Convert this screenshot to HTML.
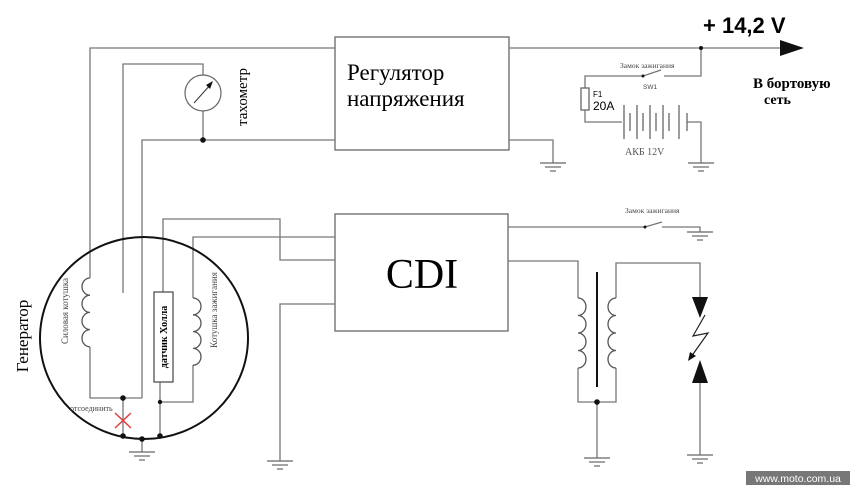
<!DOCTYPE html>
<html><head><meta charset="utf-8"><style>
body{margin:0;background:#fff}
svg{display:block}
text{font-family:"Liberation Serif",serif}
</style></head><body>
<svg width="850" height="485" viewBox="0 0 850 485" xmlns="http://www.w3.org/2000/svg">
<defs>
<g id="gnd" stroke="#666" stroke-width="1.2"><line x1="-13" y1="0" x2="13" y2="0"/><line x1="-8" y1="4" x2="8" y2="4"/><line x1="-3" y1="8" x2="3" y2="8"/></g>
</defs>
<g fill="none" stroke="#777" stroke-width="1.3">
<rect x="335" y="37" width="174" height="113" stroke="#666"/>
<rect x="335" y="214" width="173" height="117" stroke="#666"/>
<polyline points="90,278 90,48 335,48"/>
<line x1="509" y1="48" x2="782" y2="48"/>
<polyline points="123,293 123,64 203,64 203,75"/>
<line x1="203" y1="111" x2="203" y2="140"/>
<polyline points="142,398 142,140 335,140"/>
<polyline points="90,347 90,398 142,398"/>
<line x1="123" y1="398" x2="123" y2="436"/>
<line x1="142" y1="439" x2="142" y2="452"/>
<polyline points="163,292 163,219 280,219 280,260 335,260"/>
<line x1="160" y1="382" x2="160" y2="437"/>
<polyline points="160,402 193,402 193,365"/>
<polyline points="193,298 193,237 335,237"/>
<polyline points="280,461 280,304 335,304"/>
<polyline points="509,140 553,140 553,163"/>
<polyline points="701,48 701,76 664,76"/>
<polyline points="643,76 585,76 585,88"/>
<line x1="643" y1="76" x2="661" y2="70"/>
<rect x="581" y="88" width="8" height="22" stroke="#666"/>
<polyline points="585,110 585,122 622,122"/>
<polyline points="687,122 701,122 701,163"/>
<polyline points="508,227 644,227"/>
<line x1="645" y1="227" x2="662" y2="222"/>
<polyline points="662,227 700,227 700,232"/>
<polyline points="508,261 578,261 578,298"/>
<polyline points="578,368 578,402 616,402 616,368"/>
<polyline points="616,298 616,263 700,263 700,300"/>
<line x1="597" y1="402" x2="597" y2="458"/>
<line x1="700" y1="383" x2="700" y2="455"/>
<path d="M90,278 a8,8.6 0 0 0 0,17.2 a8,8.6 0 0 0 0,17.2 a8,8.6 0 0 0 0,17.2 a8,8.6 0 0 0 0,17.2" stroke="#555"/>
<path d="M193,298 a8,8.4 0 0 1 0,16.8 a8,8.4 0 0 1 0,16.8 a8,8.4 0 0 1 0,16.8 a8,8.4 0 0 1 0,16.8" stroke="#555"/>
<path d="M578,298 a8,8.75 0 0 1 0,17.5 a8,8.75 0 0 1 0,17.5 a8,8.75 0 0 1 0,17.5 a8,8.75 0 0 1 0,17.5" stroke="#555"/>
<path d="M616,298 a8,8.75 0 0 0 0,17.5 a8,8.75 0 0 0 0,17.5 a8,8.75 0 0 0 0,17.5 a8,8.75 0 0 0 0,17.5" stroke="#555"/>
<g stroke="#666"><line x1="624" y1="105" x2="624" y2="139"/><line x1="630" y1="113" x2="630" y2="131"/><line x1="637" y1="105" x2="637" y2="139"/><line x1="643" y1="113" x2="643" y2="131"/><line x1="650" y1="105" x2="650" y2="139"/><line x1="656" y1="113" x2="656" y2="131"/><line x1="663" y1="105" x2="663" y2="139"/><line x1="669" y1="113" x2="669" y2="131"/><line x1="679" y1="105" x2="679" y2="139"/><line x1="687" y1="113" x2="687" y2="131"/></g>
</g>
<ellipse cx="144" cy="338" rx="104" ry="101" fill="none" stroke="#111" stroke-width="2"/>
<circle cx="203" cy="93" r="18" fill="#fff" stroke="#666" stroke-width="1.2"/>
<line x1="194" y1="103" x2="211" y2="84" stroke="#333" stroke-width="1"/>
<polygon points="213,81 206,85 210,89" fill="#111"/>
<rect x="154" y="292" width="19" height="90" fill="#fff" stroke="#444" stroke-width="1.2"/>
<text transform="translate(167,337) rotate(-90)" text-anchor="middle" font-size="10" font-weight="bold">датчик Холла</text>
<line x1="597" y1="272" x2="597" y2="387" stroke="#111" stroke-width="2"/>
<polygon points="692,297 708,297 700,318" fill="#111"/>
<polygon points="692,383 708,383 700,360" fill="#111"/>
<polyline points="705,315 693,336 708,333 691,357" fill="none" stroke="#222" stroke-width="1.2"/>
<polygon points="688,361 690,352 696,356" fill="#111"/>
<polygon points="780,40 804,48 780,56" fill="#111"/>
<g fill="#111"><circle cx="203" cy="140" r="2.8"/><circle cx="123" cy="398" r="2.8"/><circle cx="123" cy="436" r="2.8"/><circle cx="142" cy="439" r="2.8"/><circle cx="160" cy="436" r="2.8"/><circle cx="160" cy="402" r="2.2"/><circle cx="597" cy="402" r="2.8"/><circle cx="701" cy="48" r="2"/><circle cx="643" cy="76" r="1.5"/><circle cx="645" cy="227" r="1.5"/></g>
<g stroke="#e04040" stroke-width="1.5"><line x1="115" y1="413" x2="131" y2="428"/><line x1="131" y1="413" x2="115" y2="428"/></g>
<use href="#gnd" x="142" y="452"/><use href="#gnd" x="280" y="461"/><use href="#gnd" x="553" y="163"/><use href="#gnd" x="701" y="163"/><use href="#gnd" x="700" y="232"/><use href="#gnd" x="597" y="458"/><use href="#gnd" x="700" y="455"/>
<text x="347" y="80" font-size="23">Регулятор</text>
<text x="347" y="106" font-size="23">напряжения</text>
<text x="422" y="288" font-size="42" text-anchor="middle">CDI</text>
<text x="703" y="33" font-size="22" font-weight="bold" style="font-family:'Liberation Sans',sans-serif">+ 14,2 V</text>
<text x="753" y="88" font-size="15" font-weight="bold">В бортовую</text>
<text x="764" y="104" font-size="14" font-weight="bold">сеть</text>
<text x="620" y="68" font-size="7.5" fill="#444">Замок зажигания</text>
<text x="643" y="89" font-size="6.5" fill="#444" style="font-family:'Liberation Sans',sans-serif">SW1</text>
<text x="593" y="97" font-size="8" style="font-family:'Liberation Sans',sans-serif">F1</text>
<text x="593" y="110" font-size="12" style="font-family:'Liberation Sans',sans-serif">20A</text>
<text x="625" y="155" font-size="10" fill="#555">АКБ 12V</text>
<text x="625" y="213" font-size="7.5" fill="#444">Замок зажигания</text>
<text transform="translate(247,97) rotate(-90)" text-anchor="middle" font-size="15">тахометр</text>
<text transform="translate(28,336) rotate(-90)" text-anchor="middle" font-size="17">Генератор</text>
<text transform="translate(68,311) rotate(-90)" text-anchor="middle" font-size="9" fill="#444">Силовая котушка</text>
<text transform="translate(217,310) rotate(-90)" text-anchor="middle" font-size="9" fill="#444">Котушка зажигания</text>
<text x="70" y="411" font-size="8" fill="#444">отсоединить</text>
<rect x="746" y="471" width="104" height="14" fill="#777"/>
<text x="798" y="482" font-size="10.5" fill="#fff" text-anchor="middle" style="font-family:'Liberation Sans',sans-serif">www.moto.com.ua</text>
</svg>
</body></html>
